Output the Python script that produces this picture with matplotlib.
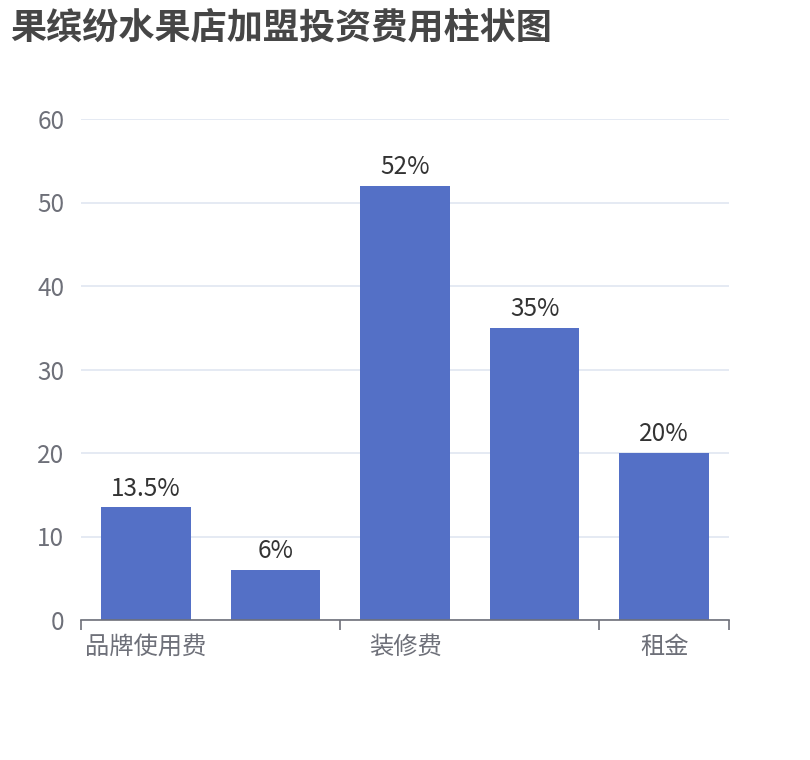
import matplotlib
matplotlib.use("Agg")
import matplotlib.pyplot as plt

plt.rcParams['font.family'] = ['Noto Sans CJK SC', 'DejaVu Sans']

title = "果缤纷水果店加盟投资费用柱状图"
categories = ["品牌使用费", "保证金", "装修费", "设备费", "租金"]
values = [13.5, 6, 52, 35, 20]
shown_label_idx = [0, 2, 4]
y_ticks = [0, 10, 20, 30, 40, 50, 60]

W, H = 810, 760
fig = plt.figure(figsize=(W / 100, H / 100), dpi=100)
ax = fig.add_axes([81 / W, (H - 620) / H, (729 - 81) / W, (620 - 119) / H])

x = list(range(len(categories)))
ax.bar(x, values, width=0.69, color="#5470c6", zorder=3)
for xi, v in zip(x, values):
    ax.annotate(f"{v:g}%", (xi, v), xytext=(0, 4), textcoords="offset points",
                ha="center", va="bottom", fontsize=17.5, color="#333333")

ax.set_xlim(-0.5, len(categories) - 0.5)
ax.set_ylim(0, 60)
ax.set_yticks(y_ticks)
ax.set_yticklabels([str(t) for t in y_ticks], fontsize=17.5, color="#6e7079")
ax.tick_params(axis="y", length=0, pad=12)
ax.yaxis.grid(True, color="#e0e6f1", linewidth=1.2, zorder=0)

# tick marks at category boundaries (every other category interval)
bounds = [-0.5, 1.5, 3.5, len(categories) - 0.5]
ax.set_xticks(bounds)
ax.set_xticklabels([""] * len(bounds))
ax.tick_params(axis="x", which="major", length=7, width=1.2, color="#6e7079", direction="out")
ax.set_xticks(shown_label_idx, minor=True)
ax.set_xticklabels([categories[i] for i in shown_label_idx], minor=True,
                   fontsize=17.5, color="#6e7079")
ax.tick_params(axis="x", which="minor", length=0, pad=10)

for s in ["left", "right", "top"]:
    ax.spines[s].set_visible(False)
ax.spines["bottom"].set_color("#6e7079")
ax.spines["bottom"].set_linewidth(1.2)
ax.spines["bottom"].set_zorder(4)

fig.text(10 / W, 1 - 28 / H, title, fontsize=26, fontweight="bold", color="#464646",
         ha="left", va="center")

fig.savefig("out.png", dpi=100)
